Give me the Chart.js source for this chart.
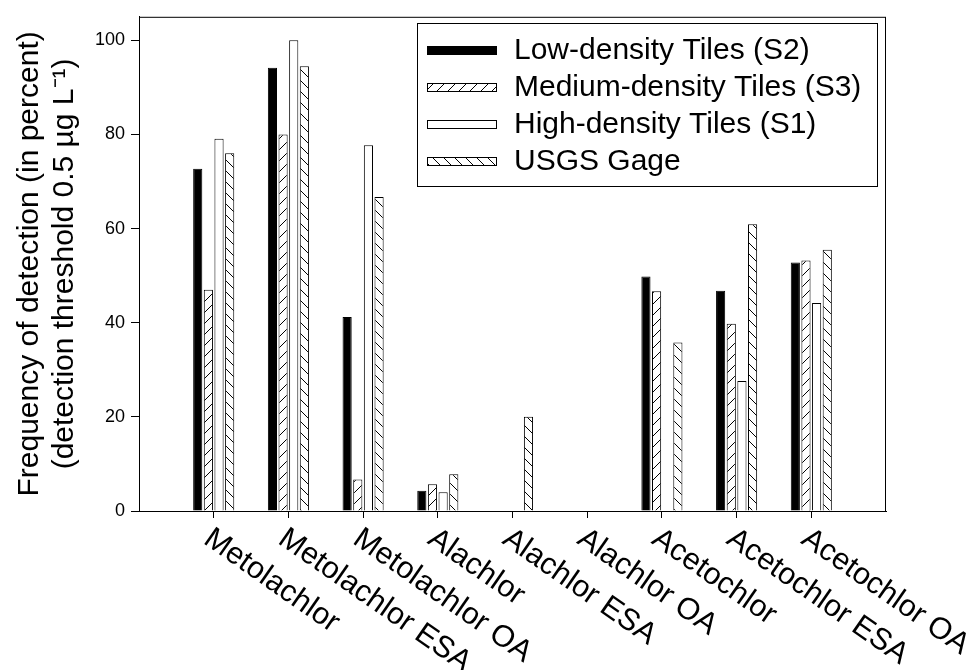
<!DOCTYPE html>
<html>
<head>
<meta charset="utf-8">
<script src="https://cdn.jsdelivr.net/npm/chart.js@4.4.1/dist/chart.umd.min.js"></script>
<style>
  html, body { margin: 0; padding: 0; background: #fff; }
</style>
</head>
<body>
<canvas id="chart" width="971" height="670"></canvas>
<script>
// values (percent detections)
var categories = ['Metolachlor', 'Metolachlor ESA', 'Metolachlor OA', 'Alachlor', 'Alachlor ESA',
  'Alachlor OA', 'Acetochlor', 'Acetochlor ESA', 'Acetochlor OA'];
var seriesNames = ['Low-density Tiles (S2)', 'Medium-density Tiles (S3)', 'High-density Tiles (S1)', 'USGS Gage'];
var lowDensity = [72.7, 94.2, 41.2, 4.3, 0, 0, 49.8, 46.8, 52.8];
var mediumDensity = [47.0, 80.0, 6.7, 5.7, 0, 0, 46.7, 39.8, 53.2];
var highDensity = [79.1, 100, 77.7, 4.0, 0, 0, 0, 27.6, 44.2];
var usgsGage = [76.0, 94.5, 66.7, 7.8, 20.0, 0, 35.8, 60.9, 55.5];
var yTicks = [0, 20, 40, 60, 80, 100];
var yTitle = ['Frequency of detection (in percent)', '(detection threshold 0.5 \u00b5g L\u207b\u00b9)'];

var FONT = '"Liberation Sans", Arial, Helvetica, sans-serif';
var ctx = document.getElementById('chart').getContext('2d');

function hatch(dir) {
  var s = 11;
  var c = document.createElement('canvas');
  c.width = s; c.height = s;
  var g = c.getContext('2d');
  g.fillStyle = '#fff';
  g.fillRect(0, 0, s, s);
  g.strokeStyle = '#000';
  g.lineWidth = 1;
  g.beginPath();
  if (dir > 0) {
    g.moveTo(-1, s + 1); g.lineTo(s + 1, -1);
  } else {
    g.moveTo(-1, -1); g.lineTo(s + 1, s + 1);
  }
  g.stroke();
  return ctx.createPattern(c, 'repeat');
}

function points(vals) {
  return vals.map(function(v, i) { return {x: i + 1, y: v}; });
}

var fills = ['#000', hatch(1), '#fff', hatch(-1)];
var allSeries = [lowDensity, mediumDensity, highDensity, usgsGage];

var datasets = allSeries.map(function(vals, k) {
  return {
    label: seriesNames[k],
    data: points(vals),
    backgroundColor: fills[k],
    borderColor: '#000',
    borderWidth: 1,
    categoryPercentage: 0.57,
    barPercentage: 0.86
  };
});

// frame around the plot + legend box + slanted category labels
var decor = {
  id: 'decor',
  afterDraw: function(chart) {
    var c = chart.ctx, a = chart.chartArea;
    c.save();
    c.strokeStyle = '#000';
    c.lineWidth = 1;
    c.strokeRect(a.left + 0.5, a.top + 0.5, a.right - a.left - 1, a.bottom - a.top);

    // legend
    var lx = 417, ly = 23, lw = 460, lh = 163;
    c.strokeRect(lx + 0.5, ly + 0.5, lw, lh);
    c.font = '30px ' + FONT;
    c.textBaseline = 'middle';
    c.textAlign = 'left';
    chart.data.datasets.forEach(function(ds, i) {
      var cy = 50 + i * 37;
      c.fillStyle = ds.backgroundColor;
      c.fillRect(427, cy - 4, 70, 9);
      c.strokeRect(427.5, cy - 3.5, 69, 8);
      c.fillStyle = '#000';
      c.fillText(ds.label, 514, cy + 1);
    });

    // category labels
    var xs = chart.scales.x;
    c.font = '30.5px ' + FONT;
    c.textBaseline = 'top';
    categories.forEach(function(name, i) {
      var x = xs.getPixelForValue(i + 1);
      c.save();
      c.translate(x + 2, a.bottom + 12);
      c.rotate(35 * Math.PI / 180);
      c.fillText(name, 0, 0);
      c.restore();
    });
    c.restore();
  }
};

new Chart(ctx, {
  type: 'bar',
  data: {datasets: datasets},
  plugins: [decor],
  options: {
    responsive: false,
    animation: false,
    layout: {padding: {top: 12, right: 85, left: 0, bottom: 0}},
    plugins: {
      legend: {display: false},
      tooltip: {enabled: false}
    },
    scales: {
      x: {
        type: 'linear',
        min: 0,
        max: 10,
        offset: false,
        afterFit: function(s) { s.height = 159; },
        afterBuildTicks: function(s) {
          s.ticks = categories.map(function(n, i) { return {value: i + 1}; });
        },
        ticks: {display: false},
        grid: {drawOnChartArea: false, drawTicks: true, tickLength: 7, offset: false, color: '#000'},
        border: {display: true, color: '#000', width: 1}
      },
      y: {
        min: 0,
        max: 105,
        afterFit: function(s) { s.width = 139; },
        afterBuildTicks: function(s) {
          s.ticks = yTicks.map(function(v) { return {value: v}; });
        },
        ticks: {font: {size: 18, family: FONT}, color: '#000', padding: 6},
        grid: {drawOnChartArea: false, drawTicks: true, tickLength: 8, color: '#000'},
        border: {display: true, color: '#000', width: 1},
        title: {
          display: true,
          text: yTitle,
          color: '#000',
          font: {size: 30, family: FONT, lineHeight: 1.18},
          padding: {top: 12, bottom: 0}
        }
      }
    }
  }
});
</script>
</body>
</html>
